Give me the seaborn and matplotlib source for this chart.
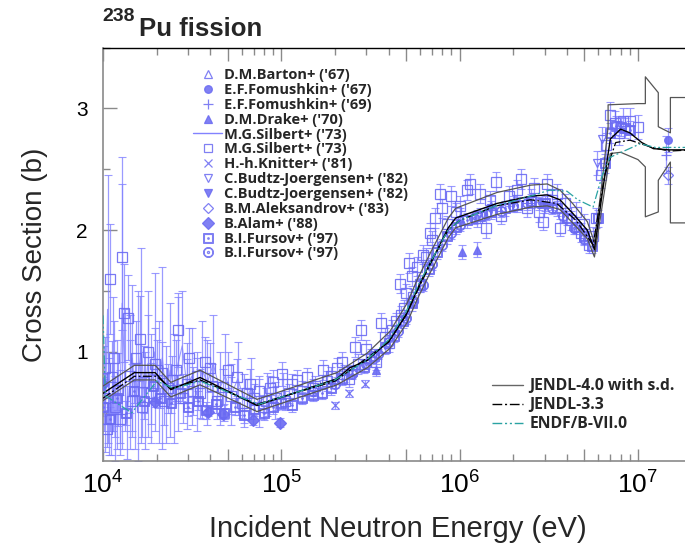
import matplotlib
matplotlib.use("Agg")
import matplotlib.pyplot as plt
from matplotlib.lines import Line2D
from matplotlib.ticker import LogLocator, LogFormatterSciNotation, NullFormatter, MultipleLocator
import pandas as pd
import seaborn as sns

# ---------------- evaluated cross sections (energy in eV, sigma in b) ----------------
j40_e = [1.0e4, 1.5e4, 1.96e4, 2.4e4, 3.5e4, 7.3e4, 2.05e5, 2.42e5, 3.03e5, 4.07e5, 5.07e5,
         5.77e5, 6.3e5, 6.83e5, 7.5e5, 8.64e5, 9.5e5, 1.62e6, 2.5e6, 3.1e6, 3.65e6, 4.3e6,
         5.2e6, 5.7e6, 6.3e6, 7.0e6, 8.0e6, 9.0e6, 1.05e7, 1.22e7, 1.5e7, 2.0e7]
j40_xs = [0.66, 0.83, 0.83, 0.69, 0.79, 0.56, 0.78, 0.87, 0.93, 1.10, 1.32,
          1.51, 1.63, 1.73, 1.84, 2.02, 2.10, 2.22, 2.28, 2.29, 2.25, 2.14,
          2.00, 1.84, 2.30, 2.75, 2.83, 2.80, 2.72, 2.67, 2.66, 2.66]

j40_up_e = [1.0e4, 1.5e4, 1.96e4, 2.4e4, 3.5e4, 7.3e4, 2.05e5, 3.03e5, 4.07e5, 5.07e5, 5.77e5,
            6.83e5, 8.64e5, 9.5e5, 1.62e6, 2.5e6, 3.1e6, 3.65e6, 4.3e6, 5.2e6, 5.7e6, 6.3e6,
            6.8e6, 6.8e6, 1.0e7, 1.1e7, 1.1e7, 1.3e7, 1.3e7, 1.52e7, 1.52e7, 2.0e7]
j40_up_xs = [0.72, 0.89, 0.89, 0.75, 0.85, 0.61, 0.83, 0.99, 1.17, 1.40, 1.59,
             1.81, 2.10, 2.18, 2.31, 2.37, 2.38, 2.33, 2.22, 2.07, 1.90, 2.40,
             2.85, 3.03, 3.04, 3.04, 3.26, 3.13, 2.85, 2.80, 3.09, 3.09]

j40_lo_e = [1.0e4, 1.5e4, 1.96e4, 2.4e4, 3.5e4, 7.3e4, 2.05e5, 3.03e5, 4.07e5, 5.07e5, 5.77e5,
            6.83e5, 8.64e5, 9.5e5, 1.62e6, 2.5e6, 3.1e6, 3.65e6, 4.3e6, 5.2e6, 5.7e6, 6.3e6,
            7.0e6, 8.0e6, 1.0e7, 1.1e7, 1.1e7, 1.3e7, 1.3e7, 1.52e7, 1.52e7, 2.0e7]
j40_lo_xs = [0.60, 0.77, 0.77, 0.63, 0.73, 0.51, 0.73, 0.87, 1.03, 1.24, 1.43,
             1.65, 1.94, 2.02, 2.13, 2.19, 2.20, 2.17, 2.06, 1.93, 1.78, 2.20,
             2.63, 2.64, 2.58, 2.52, 2.11, 2.15, 2.41, 2.56, 2.06, 2.06]

j33_e = [1.0e4, 1.5e4, 2.0e4, 2.4e4, 3.5e4, 7.3e4, 2.0e5, 4.0e5, 5.0e5, 6.0e5, 7.0e5, 8.6e5,
         1.0e6, 1.6e6, 2.5e6, 3.5e6, 4.5e6, 5.6e6, 6.5e6, 7.5e6, 9.0e6, 1.2e7, 1.5e7, 2.0e7]
j33_xs = [0.62, 0.80, 0.80, 0.70, 0.77, 0.57, 0.76, 1.08, 1.30, 1.55, 1.75, 2.00,
          2.08, 2.20, 2.25, 2.22, 2.08, 1.88, 2.45, 2.72, 2.74, 2.68, 2.65, 2.66]

endf_e = [1.0e4, 1.03e4, 1.45e4, 2.0e4, 2.5e4, 3.5e4, 7.5e4, 2.0e5, 3.0e5, 4.0e5, 5.0e5, 6.0e5,
          7.0e5, 8.6e5, 1.0e6, 1.6e6, 2.5e6, 3.2e6, 4.0e6, 4.6e6, 5.6e6, 6.3e6, 7.0e6, 1.03e7,
          1.25e7, 1.6e7, 2.0e7]
endf_xs = [1.30, 0.64, 0.50, 0.76, 0.70, 0.76, 0.57, 0.77, 0.93, 1.10, 1.33, 1.58,
           1.76, 2.00, 2.08, 2.20, 2.28, 2.33, 2.32, 2.25, 2.19, 2.45, 2.60, 2.71,
           2.68, 2.68, 2.68]

# ---------------- measurements: energy (eV), sigma (b), uncertainty (b) ----------------
barton_e = [1.0e6, 1.5e6, 2.5e6]
barton_xs = [2.10, 2.20, 2.26]
barton_err = [0.08, 0.08, 0.08]

fom67_e = [1.48e7]
fom67_xs = [2.74]
fom67_err = [0.10]

fom69_e = [1.44e7]
fom69_xs = [2.62]
fom69_err = [0.15]

drake_e = [3.4e5, 1.03e6, 1.25e6]
drake_xs = [0.85, 1.82, 1.84]
drake_err = [0.05, 0.06, 0.06]

silb_line_e = [1.01e4, 1.03e4, 1.06e4, 1.08e4, 1.11e4, 1.14e4, 1.17e4, 1.20e4, 1.24e4, 1.28e4,
               1.32e4, 1.36e4, 1.41e4, 1.46e4, 1.52e4, 1.58e4, 1.64e4, 1.71e4, 1.78e4, 1.86e4,
               1.95e4, 2.05e4, 2.15e4, 2.26e4, 2.38e4, 2.50e4, 2.63e4, 2.78e4, 2.95e4, 3.15e4,
               3.35e4, 3.60e4, 3.85e4, 4.15e4, 4.50e4, 4.85e4, 5.25e4, 5.70e4, 6.20e4, 6.80e4,
               7.50e4, 8.30e4, 9.20e4, 1.02e5]
silb_line_xs = [0.70, 0.48, 1.35, 0.55, 0.40, 0.90, 0.30, 0.65, 0.50, 1.40,
                0.85, 0.42, 0.75, 0.95, 0.55, 0.80, 1.05, 0.60, 0.90, 0.70,
                1.00, 0.75, 0.95, 0.65, 0.85, 0.70, 0.90, 1.05, 0.72, 0.80,
                0.65, 0.85, 0.75, 0.90, 0.70, 0.80, 0.65, 0.78, 0.60, 0.70,
                0.58, 0.65, 0.60, 0.68]
silb_line_err = [0.35, 0.30, 1.10, 0.40, 0.25, 0.55, 0.20, 0.45, 0.35, 1.20,
                 0.50, 0.30, 0.55, 0.60, 0.35, 0.70, 0.80, 0.40, 0.60, 0.45,
                 0.65, 0.50, 0.75, 0.40, 0.55, 0.45, 0.55, 0.45, 0.35, 0.40,
                 0.30, 0.40, 0.35, 0.40, 0.30, 0.35, 0.25, 0.30, 0.22, 0.25,
                 0.20, 0.18, 0.15, 0.15]

silb_e = [1.02e4, 1.05e4, 1.09e4, 1.12e4, 1.17e4, 1.21e4, 1.28e4, 1.31e4, 1.38e4, 1.45e4,
          1.53e4, 1.61e4, 1.70e4, 1.79e4, 1.87e4, 2.02e4, 2.14e4, 2.30e4, 2.44e4, 2.63e4,
          2.80e4, 2.96e4, 3.20e4, 3.50e4, 3.75e4, 3.98e4, 4.35e4, 4.71e4, 5.2e4, 5.64e4,
          6.0e4, 6.42e4, 7.0e4, 7.91e4, 8.6e4, 9.3e4, 1.01e5, 1.1e5, 1.22e5, 1.39e5,
          1.55e5, 1.71e5, 1.9e5, 2.05e5, 2.25e5, 2.6e5, 2.8e5, 3.2e5, 3.6e5, 4.0e5,
          4.4e5, 4.6e5, 4.9e5, 5.2e5, 5.5e5, 6.0e5, 6.5e5, 7.0e5, 7.8e5, 8.5e5,
          9.5e5, 1.1e6, 1.25e6, 1.48e6, 1.7e6, 2.1e6, 2.4e6, 2.95e6, 3.3e6, 3.65e6,
          4.2e6, 4.8e6, 5.3e6, 5.6e6, 6.6e6, 7.4e6, 8.2e6,
          1.03e4, 1.15e4, 1.25e4, 1.42e4, 1.65e4, 1.95e4, 2.2e4, 2.55e4, 3.05e4, 3.35e4,
          4.1e4, 5.0e4, 6.7e4, 7.5e4, 8.2e4, 9.0e4, 1.05e5, 1.15e5, 1.3e5,
          1.5e5, 1.8e5, 2.2e5, 2.4e5, 2.7e5, 3.0e5, 3.4e5, 3.8e5, 4.2e5, 4.7e5,
          5.0e5, 5.4e5, 5.8e5, 6.2e5, 6.8e5, 7.3e5, 8.0e5, 9.0e5, 1.0e6, 1.15e6,
          1.3e6, 1.4e6, 1.6e6, 1.9e6, 2.2e6, 2.6e6, 2.8e6, 3.1e6, 3.5e6, 3.9e6,
          4.5e6, 5.0e6, 5.8e6, 6.2e6, 7.0e6, 7.8e6, 9.0e6, 1.0e7]
silb_xs = [0.87, 0.37, 1.60, 0.79, 0.55, 0.69, 1.78, 1.32, 1.28, 0.60,
           0.95, 1.11, 0.75, 1.00, 0.66, 0.85, 0.83, 0.70, 0.77, 1.18,
           0.62, 0.74, 0.68, 0.66, 0.92, 0.87, 0.60, 0.71, 0.64, 0.79,
           0.58, 0.66, 0.62, 0.55, 0.70, 0.62, 0.82, 0.66, 0.77, 0.79,
           0.72, 0.85, 0.80, 0.87, 0.82, 1.04, 1.18, 0.95, 1.24, 1.07,
           1.25, 1.56, 1.36, 1.73, 1.45, 1.56, 1.78, 1.92, 2.30, 2.05,
           2.15, 2.33, 2.10, 2.25, 2.12, 2.33, 2.18, 2.07, 2.25, 2.02,
           2.08, 1.98, 1.88, 1.95, 2.70, 2.88, 2.90,
           0.62, 0.95, 0.45, 0.80, 0.55, 0.90, 0.60, 0.85, 0.95, 0.80,
           0.72, 0.85, 0.74, 0.68, 0.60, 0.75, 0.60, 0.74, 0.68,
           0.70, 0.76, 0.92, 0.78, 0.90, 1.02, 0.92, 1.12, 1.18, 1.30,
           1.48, 1.62, 1.70, 1.80, 1.98, 2.10, 2.18, 2.28, 2.20, 2.38,
           2.30, 2.02, 2.40, 2.28, 2.42, 2.35, 2.15, 2.38, 2.30, 2.22,
           2.15, 2.05, 2.10, 2.45, 2.95, 2.80, 2.90, 2.85]
silb_err = [0.25, 0.15, 0.45, 0.30, 0.25, 0.30, 0.60, 0.40, 0.35, 0.30,
            0.30, 0.35, 0.30, 0.30, 0.25, 0.25, 0.25, 0.20, 0.20, 0.30,
            0.20, 0.20, 0.20, 0.20, 0.20, 0.20, 0.15, 0.15, 0.15, 0.15,
            0.12, 0.12, 0.12, 0.10, 0.10, 0.10, 0.10, 0.08, 0.08, 0.08,
            0.08, 0.08, 0.08, 0.08, 0.07, 0.08, 0.08, 0.07, 0.08, 0.07,
            0.07, 0.08, 0.07, 0.08, 0.07, 0.07, 0.07, 0.07, 0.08, 0.07,
            0.07, 0.08, 0.07, 0.07, 0.07, 0.08, 0.07, 0.07, 0.08, 0.07,
            0.08, 0.08, 0.07, 0.08, 0.10, 0.10, 0.10,
            0.20, 0.30, 0.20, 0.30, 0.25, 0.30, 0.20, 0.25, 0.25, 0.20,
            0.18, 0.15, 0.12, 0.12, 0.10, 0.10, 0.08, 0.08, 0.08,
            0.08, 0.08, 0.08, 0.07, 0.08, 0.08, 0.07, 0.08, 0.08, 0.08,
            0.08, 0.08, 0.08, 0.08, 0.08, 0.08, 0.08, 0.08, 0.08, 0.08,
            0.08, 0.08, 0.08, 0.08, 0.08, 0.08, 0.08, 0.08, 0.08, 0.08,
            0.08, 0.08, 0.08, 0.10, 0.10, 0.10, 0.10, 0.10]

knitter_e = [2.0e5, 2.4e5, 2.95e5]
knitter_xs = [0.56, 0.66, 0.74]
knitter_err = [0.03, 0.03, 0.03]

budtz_o_e = [5.9e6, 6.3e6]
budtz_o_xs = [2.55, 2.75]
budtz_o_err = [0.10, 0.10]

budtz_f_e = [1.5e6, 2.0e6, 3.0e6]
budtz_f_xs = [2.18, 2.22, 2.20]
budtz_f_err = [0.06, 0.06, 0.06]

aleks_e = [1.48e7]
aleks_xs = [2.45]
aleks_err = [0.07]

alam_e = [1.0e4, 1.95e4, 3.9e4, 4.7e4, 6.9e4, 9.8e4]
alam_xs = [0.74, 0.59, 0.51, 0.49, 0.44, 0.42]
alam_err = [0.05, 0.04, 0.04, 0.04, 0.04, 0.04]

furs_a_e = [1.0e4, 1.1e4, 1.2e4, 1.35e4, 1.5e4, 1.7e4, 1.9e4, 2.1e4, 2.4e4, 2.7e4,
            3.0e4, 3.4e4, 3.8e4, 4.3e4, 4.8e4, 5.5e4, 6.2e4, 7.0e4, 8.0e4, 9.0e4,
            1.0e5, 1.15e5, 1.3e5, 1.5e5, 1.7e5, 1.9e5, 2.2e5, 2.5e5, 2.9e5, 3.3e5,
            3.8e5, 4.3e5, 4.8e5, 5.4e5, 6.0e5, 6.7e5, 7.5e5, 8.5e5, 9.5e5, 1.1e6,
            1.3e6, 1.5e6, 1.8e6, 2.1e6, 2.5e6, 3.0e6, 3.5e6, 4.0e6, 4.5e6, 5.0e6,
            5.5e6, 6.0e6, 6.5e6, 7.0e6, 7.5e6, 8.0e6, 8.5e6, 9.0e6]
furs_a_xs = [0.55, 0.45, 0.62, 0.50, 0.68, 0.60, 0.72, 0.62, 0.58, 0.66,
             0.55, 0.60, 0.52, 0.57, 0.50, 0.55, 0.48, 0.53, 0.50, 0.55,
             0.58, 0.56, 0.62, 0.65, 0.66, 0.70, 0.78, 0.84, 0.88, 0.97,
             1.03, 1.13, 1.25, 1.40, 1.55, 1.68, 1.82, 1.95, 2.03, 2.08,
             2.12, 2.15, 2.18, 2.21, 2.24, 2.22, 2.18, 2.10, 2.03, 1.95,
             1.87, 2.10, 2.55, 2.80, 2.86, 2.85, 2.84, 2.82]
furs_a_err = [0.08, 0.10, 0.10, 0.10, 0.10, 0.10, 0.10, 0.08, 0.08, 0.08,
              0.08, 0.08, 0.07, 0.07, 0.07, 0.07, 0.06, 0.06, 0.06, 0.06,
              0.05, 0.05, 0.05, 0.05, 0.05, 0.05, 0.05, 0.05, 0.05, 0.05,
              0.05, 0.05, 0.05, 0.06, 0.06, 0.06, 0.06, 0.06, 0.06, 0.06,
              0.06, 0.06, 0.06, 0.06, 0.06, 0.06, 0.06, 0.06, 0.06, 0.06,
              0.06, 0.07, 0.08, 0.08, 0.08, 0.08, 0.08, 0.08]

furs_b_e = [1.5e5, 2.0e5, 2.5e5, 3.0e5, 3.5e5, 4.0e5, 4.5e5, 5.0e5, 5.5e5, 6.2e5,
            7.0e5, 8.0e5, 9.0e5, 1.0e6, 1.2e6, 1.4e6, 1.7e6, 2.0e6, 2.4e6, 2.8e6,
            3.3e6, 3.8e6, 4.4e6, 5.0e6]
furs_b_xs = [0.68, 0.74, 0.82, 0.90, 0.98, 1.08, 1.17, 1.28, 1.42, 1.55,
             1.72, 1.88, 1.98, 2.04, 2.10, 2.13, 2.16, 2.20, 2.22, 2.22,
             2.18, 2.12, 2.02, 1.93]
furs_b_err = [0.04, 0.04, 0.04, 0.04, 0.04, 0.05, 0.05, 0.05, 0.05, 0.05,
              0.05, 0.05, 0.05, 0.05, 0.05, 0.05, 0.05, 0.05, 0.05, 0.05,
              0.05, 0.05, 0.05, 0.05]

# ---------------- styling ----------------
sns.set_theme(style="ticks")
plt.rcParams["font.family"] = ["Liberation Sans", "DejaVu Sans"]
plt.rcParams["mathtext.fontset"] = "custom"
plt.rcParams["mathtext.rm"] = "Liberation Sans"
plt.rcParams["mathtext.it"] = "Liberation Sans:italic"
plt.rcParams["mathtext.bf"] = "Liberation Sans:bold"

EXP = "#6a6af2"     # marker colour
BAR = "#8282ff"     # error-bar colour
LEG_FONT = ["Open Sans", "Liberation Sans", "DejaVu Sans"]

fig = plt.figure(figsize=(6.85, 5.46), dpi=100)
ax = fig.add_axes([0.1504, 0.1548, 0.8593, 0.758])
ax.set_xscale("log")

def measured(e, xs, err, marker, filled, ms=5.5, line=False):
    ax.errorbar(e, xs, yerr=err, fmt=("-" if line else "none"), color=BAR, ecolor=BAR,
                elinewidth=0.9, capsize=3, capthick=0.8, lw=0.8, alpha=0.8, zorder=2)
    if marker is not None:
        ax.plot(e, xs, linestyle="none", marker=marker, ms=ms,
                mfc=(EXP if filled else "none"), mec=EXP, mew=0.9, alpha=0.9, zorder=3)

measured(silb_line_e, silb_line_xs, silb_line_err, None, False, line=True)
measured(furs_a_e, furs_a_xs, furs_a_err, r"$\boxdot$", False, ms=7)
measured(furs_b_e, furs_b_xs, furs_b_err, r"$\odot$", False, ms=7)
measured(silb_e, silb_xs, silb_err, "s", False, ms=6.5)
measured(barton_e, barton_xs, barton_err, "^", False)
measured(fom67_e, fom67_xs, fom67_err, "o", True)
measured(fom69_e, fom69_xs, fom69_err, "+", False, ms=7)
measured(drake_e, drake_xs, drake_err, "^", True)
measured(knitter_e, knitter_xs, knitter_err, "x", False)
measured(budtz_o_e, budtz_o_xs, budtz_o_err, "v", False)
measured(budtz_f_e, budtz_f_xs, budtz_f_err, "v", True)
measured(aleks_e, aleks_xs, aleks_err, "D", False)
measured(alam_e, alam_xs, alam_err, "D", True, ms=6)

# evaluated curves
curves = [
    (j40_up_e, j40_up_xs, dict(color="#555555", lw=0.9, linestyle="-")),
    (j40_lo_e, j40_lo_xs, dict(color="#555555", lw=0.9, linestyle="-")),
    (j40_e, j40_xs, dict(color="black", lw=1.0, linestyle="-")),
    (j33_e, j33_xs, dict(color="black", lw=0.9, linestyle=(0, (7, 2, 1.5, 2)))),
    (endf_e, endf_xs, dict(color="#2aa3a3", lw=0.9, linestyle=(0, (7, 2, 1.5, 2, 1.5, 2)))),
]
for e, xs, kw in curves:
    df = pd.DataFrame({"E": e, "sigma": xs})
    sns.lineplot(data=df, x="E", y="sigma", ax=ax, estimator=None, sort=False,
                 legend=False, zorder=4, **kw)

# ---------------- axes ----------------
ax.set_xlim(1e4, 2e7)
ax.set_ylim(0.1, 3.5)
ax.xaxis.set_major_locator(LogLocator(base=10, subs=(1.0, 5.0)))
ax.xaxis.set_major_formatter(LogFormatterSciNotation(labelOnlyBase=True))
ax.xaxis.set_minor_locator(LogLocator(base=10, subs=(2, 3, 4, 6, 7, 8, 9)))
ax.xaxis.set_minor_formatter(NullFormatter())
ax.yaxis.set_major_locator(MultipleLocator(1))
ax.yaxis.set_minor_locator(MultipleLocator(0.5))

ax.tick_params(which="both", direction="in", top=True, right=False, color="#8a8a8a",
               width=1.0, labelcolor="black")
ax.tick_params(axis="x", which="major", length=9, labelsize=19, pad=7)
ax.tick_params(axis="x", which="minor", length=5)
ax.tick_params(axis="y", which="major", length=10, labelsize=15, pad=11)
ax.tick_params(axis="y", which="minor", length=5)

for side in ("left", "bottom"):
    ax.spines[side].set_color("#8a8a8a")
    ax.spines[side].set_linewidth(1.2)
ax.spines["top"].set_color("black")
ax.spines["top"].set_linewidth(1.0)
ax.spines["right"].set_visible(False)

ax.set_xlabel("Incident Neutron Energy (eV)", fontsize=21, labelpad=12)
ax.set_ylabel("Cross Section (b)", fontsize=20, labelpad=20)

# title with mass number as superscript
fig.text(102 / 685, 1 - 21 / 546, "238", fontsize=14, fontweight="bold", va="baseline")
fig.text(139 / 685, 1 - 36 / 546, "Pu fission", fontsize=18.5, fontweight="bold", va="baseline")

# ---------------- legends ----------------
def mk(marker, filled, ms=5.5):
    return Line2D([], [], linestyle="none", marker=marker, ms=ms,
                  mfc=(EXP if filled else "none"), mec=EXP, mew=0.9, alpha=0.85)

exp_handles = [
    mk("^", False), mk("o", True), mk("+", False, 7), mk("^", True),
    Line2D([], [], color=BAR, lw=1.0),
    mk("s", False, 6), mk("x", False), mk("v", False), mk("v", True),
    mk("D", False), mk("D", True, 6), mk(r"$\boxdot$", False, 7), mk(r"$\odot$", False, 7),
]
exp_labels = [
    "D.M.Barton+ ('67)", "E.F.Fomushkin+ ('67)", "E.F.Fomushkin+ ('69)", "D.M.Drake+ ('70)",
    "M.G.Silbert+ ('73)", "M.G.Silbert+ ('73)", "H.-h.Knitter+ ('81)",
    "C.Budtz-Joergensen+ ('82)", "C.Budtz-Joergensen+ ('82)", "B.M.Aleksandrov+ ('83)",
    "B.Alam+ ('88)", "B.I.Fursov+ ('97)", "B.I.Fursov+ ('97)",
]
fig.legend(exp_handles, exp_labels, loc="upper left",
           bbox_to_anchor=(193 / 685, 1 - 68 / 546), frameon=False,
           prop=dict(family=LEG_FONT, size=10.5, weight="bold"), handlelength=2.0,
           handletextpad=0.15, labelspacing=0.06, borderpad=0, borderaxespad=0)

eval_handles = [
    Line2D([], [], color="#666666", lw=1.0),
    Line2D([], [], color="black", lw=1.0, linestyle=(0, (7, 2, 1.5, 2))),
    Line2D([], [], color="#2aa3a3", lw=1.0, linestyle=(0, (7, 2, 1.5, 2, 1.5, 2))),
]
eval_labels = ["JENDL-4.0 with s.d.", "JENDL-3.3", "ENDF/B-VII.0"]
fig.legend(eval_handles, eval_labels, loc="upper left",
           bbox_to_anchor=(492 / 685, 1 - 378 / 546), frameon=False,
           prop=dict(family=LEG_FONT, size=11.3, weight="bold"), handlelength=2.0,
           handletextpad=0.4, labelspacing=0.2, borderpad=0, borderaxespad=0)

fig.savefig("out.png", dpi=100)
